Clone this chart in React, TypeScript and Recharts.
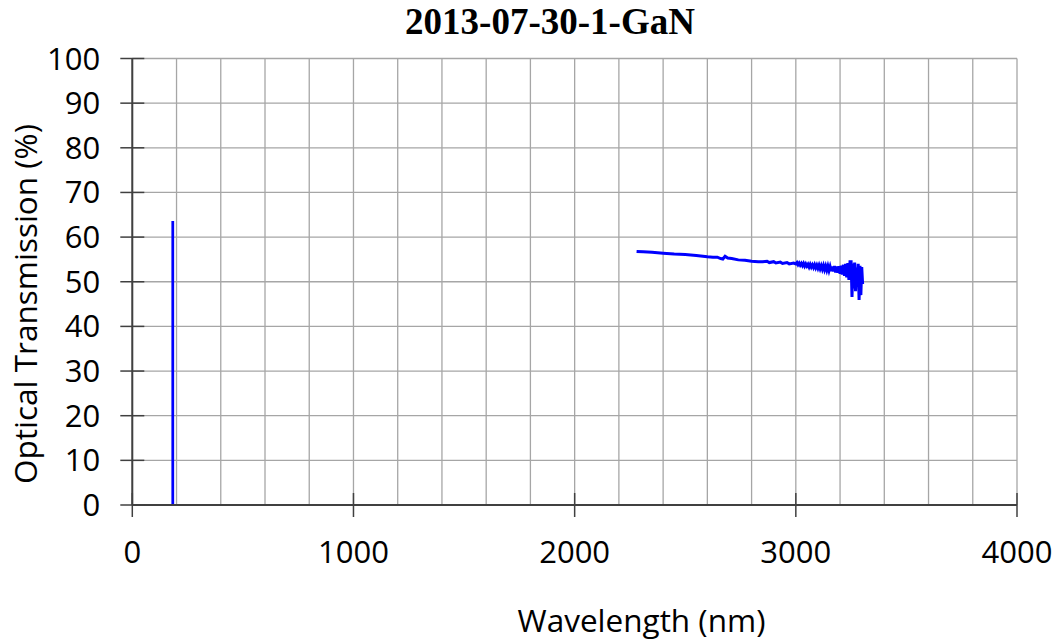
import React from 'react';
import { LineChart, Line, XAxis, YAxis, CartesianGrid } from 'recharts';

// Measured spectrum: wavelength (nm) and optical transmission (%)
const wavelengths = [
  2280, 2310, 2350, 2400, 2450, 2500, 2550, 2600, 2625, 2645, 2660, 2670, 2680, 2692,
  2710, 2740, 2770, 2800, 2830, 2850, 2870, 2880, 2900, 2910, 2930, 2940, 2960, 2970,
  2990, 3000, 3005, 3010, 3015, 3020, 3025, 3030, 3035, 3040, 3045, 3050, 3055, 3060,
  3065, 3070, 3075, 3080, 3085, 3090, 3095, 3100, 3105, 3110, 3115, 3120, 3125, 3130,
  3135, 3140, 3145, 3150, 3155, 3160, 3165, 3170, 3175, 3180, 3185, 3190, 3195, 3200,
  3205, 3210, 3215, 3220, 3225, 3230, 3235, 3240, 3245, 3250, 3254, 3258, 3262, 3266,
  3270, 3274, 3278, 3282, 3286, 3290, 3294, 3298, 3302,
];
const transmission = [
  56.8, 56.7, 56.6, 56.4, 56.2, 56.1, 55.9, 55.6, 55.5, 55.5, 55.2, 55.1, 55.7, 55.3,
  55.2, 54.9, 54.8, 54.6, 54.5, 54.5, 54.6, 54.3, 54.5, 54.2, 54.4, 54.1, 54.3, 54.0,
  54.2, 54.0, 54.3, 53.8, 54.2, 53.7, 54.1, 53.6, 54.1, 53.5, 54.0, 53.5, 53.9, 53.3,
  53.9, 53.3, 53.8, 53.2, 53.8, 53.1, 53.7, 53.0, 53.7, 52.9, 53.6, 52.8, 53.6, 52.7,
  53.5, 52.6, 53.5, 52.5, 53.4, 52.4, 53.4, 52.3, 53.5, 52.1, 53.4, 52.0, 53.5, 51.8,
  53.6, 51.6, 53.8, 51.3, 54.0, 51.0, 54.2, 50.4, 54.5, 54.5, 46.6, 54.1, 48.5, 54.3,
  47.9, 53.2, 49.8, 54.0, 45.9, 53.6, 47.0, 53.3, 49.5,
];

// Isolated reading near the short-wavelength end
const spikeWavelengths = [183, 183];
const spikeTransmission = [0, 63.6];

const xTicks = [
  0, 200, 400, 600, 800, 1000, 1200, 1400, 1600, 1800, 2000, 2200, 2400, 2600, 2800,
  3000, 3200, 3400, 3600, 3800, 4000,
];
const xLabelTicks = [0, 1000, 2000, 3000, 4000];
const yTicks = [0, 10, 20, 30, 40, 50, 60, 70, 80, 90, 100];

const chartTitle = '2013-07-30-1-GaN';
const xTitle = 'Wavelength (nm)';
const yTitle = 'Optical Transmission (%)';

const spectrum = wavelengths.map((w, i) => ({ w, t: transmission[i] }));
const spike = spikeWavelengths.map((w, i) => ({ w, t: spikeTransmission[i] }));

const labelFont = '"Open Sans", sans-serif';

const XTick = (props: any) => {
  const { x, y, payload } = props;
  if (!xLabelTicks.includes(payload.value)) return null;
  return (
    <g>
      <line x1={x} x2={x} y1={y - 12} y2={y + 12} stroke="#404040" strokeWidth={1.5} />
      <text x={x} y={y + 58} textAnchor="middle" fontFamily={labelFont} fontSize={31} fill="#000">
        {payload.value}
      </text>
    </g>
  );
};

const YTick = (props: any) => {
  const { x, y, payload } = props;
  return (
    <g>
      <line x1={x - 12} x2={x + 12} y1={y} y2={y} stroke="#404040" strokeWidth={1.5} />
      <text x={x - 32} y={y + 11} textAnchor="end" fontFamily={labelFont} fontSize={31} fill="#000">
        {payload.value}
      </text>
    </g>
  );
};

export default function App() {
  return (
    <div style={{ position: 'relative', width: 1055, height: 631 }}>
      <LineChart
        width={1055}
        height={631}
        margin={{ top: 50.5, right: 46, bottom: 104, left: 64.3 }}
      >
        <CartesianGrid stroke="#a6a6a6" strokeWidth={1.3} />
        <XAxis
          type="number"
          dataKey="w"
          domain={[0, 4000]}
          ticks={xTicks}
          interval={0}
          allowDataOverflow
          height={30}
          tickSize={0}
          tickMargin={0}
          tickLine={false}
          tick={<XTick />}
          axisLine={{ stroke: '#404040', strokeWidth: 2 }}
        />
        <YAxis
          type="number"
          domain={[0, 100]}
          ticks={yTicks}
          interval={0}
          allowDataOverflow
          width={60}
          tickSize={0}
          tickMargin={0}
          tickLine={false}
          tick={<YTick />}
          axisLine={{ stroke: '#404040', strokeWidth: 2 }}
        />
        <Line
          data={spike}
          dataKey="t"
          stroke="#0000ff"
          strokeWidth={2.75}
          dot={false}
          isAnimationActive={false}
        />
        <Line
          data={spectrum}
          dataKey="t"
          stroke="#0000ff"
          strokeWidth={3}
          dot={false}
          isAnimationActive={false}
        />
      </LineChart>
      <svg
        width={1063}
        height={639}
        style={{ position: 'absolute', left: -8, top: -8, pointerEvents: 'none', overflow: 'visible' }}
      >
        <text
          x={550}
          y={34}
          textAnchor="middle"
          fontFamily='"Liberation Serif", serif'
          fontWeight="bold"
          fontSize={37}
          fill="#000"
        >
          {chartTitle}
        </text>
        <text x={641.5} y={631.5} textAnchor="middle" fontFamily={labelFont} fontSize={31.5} fill="#000">
          {xTitle}
        </text>
        <text
          x={37}
          y={304}
          textAnchor="middle"
          transform="rotate(-90 37 304)"
          fontFamily={labelFont}
          fontSize={31.5}
          fill="#000"
        >
          {yTitle}
        </text>
      </svg>
    </div>
  );
}
